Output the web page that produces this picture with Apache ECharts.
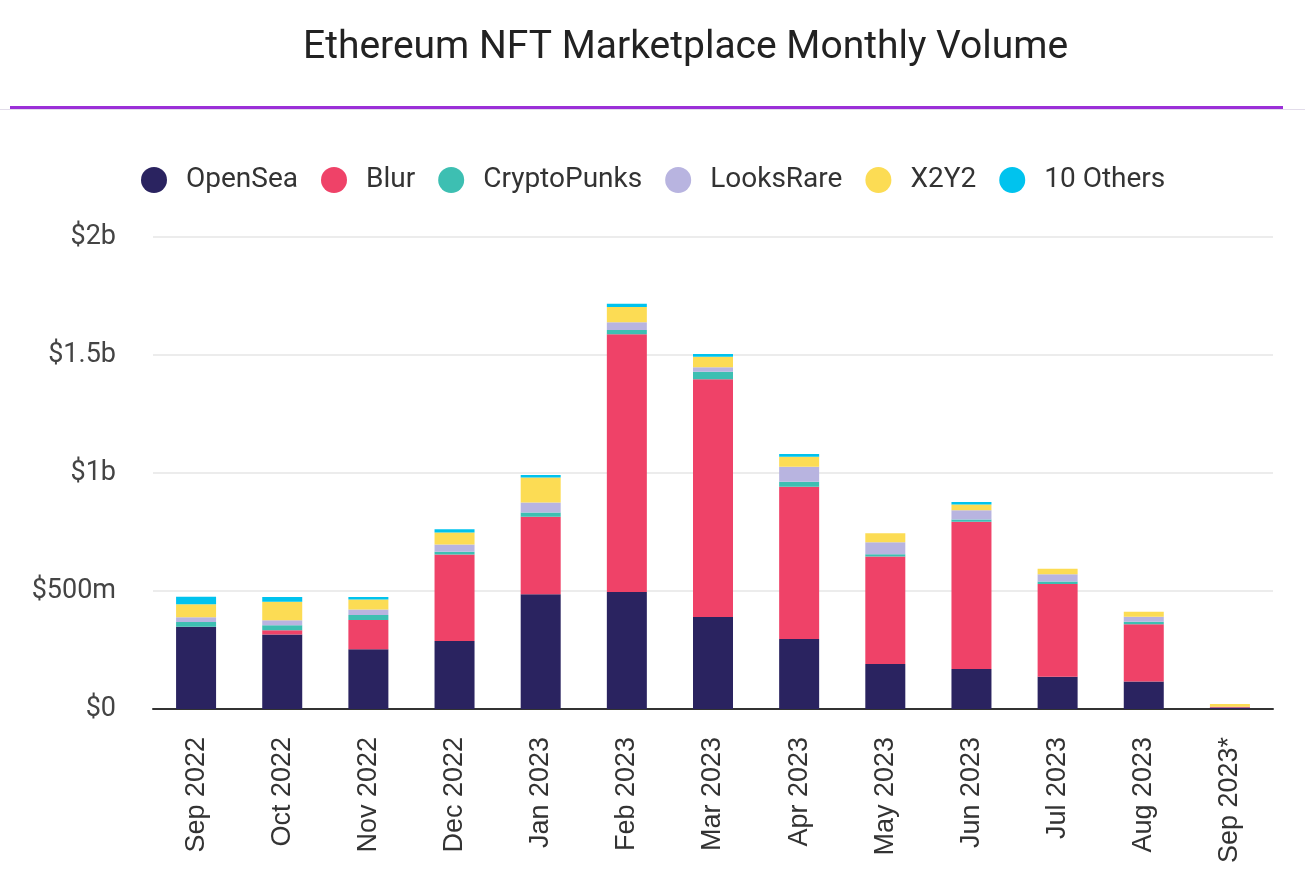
<!DOCTYPE html>
<html>
<head>
<meta charset="utf-8">
<script src="https://cdn.jsdelivr.net/npm/echarts@6/dist/echarts.min.js"></script>
<style>html,body{margin:0;padding:0;background:#fff;}#c{width:1305px;height:878px;}</style>
</head>
<body>
<div id="c"></div>
<script>
const categories = ['Sep 2022','Oct 2022','Nov 2022','Dec 2022','Jan 2023','Feb 2023','Mar 2023','Apr 2023','May 2023','Jun 2023','Jul 2023','Aug 2023','Sep 2023*'];
// values in $ millions
const openSea     = [349, 316, 253, 288, 486, 496, 390, 297, 191, 169, 137, 116, 6];
const blur        = [0,   18,  124, 367, 329, 1092, 1007, 645, 455, 624, 393, 243, 4];
const cryptoPunks = [20,  21,  21,  11,  18,  18,  32,  21,  10,  10,  10,  11,  0];
const looksRare   = [20,  21,  24,  31,  42,  33,  19,  64,  51,  39,  31,  21,  0];
const x2y2        = [55,  78,  42,  51,  106, 64,  45,  42,  38,  25,  23,  21,  11];
const others      = [32,  21,  11,  14,  11,  14,  11,  11,  0,   10,  0,   0,   0];
const yTickValues = [0, 500, 1000, 1500, 2000];
const yTickLabels = ['$0', '$500m', '$1b', '$1.5b', '$2b'];

const seriesDefs = [
  ['OpenSea', openSea, '#2a2360'],
  ['Blur', blur, '#ef4268'],
  ['CryptoPunks', cryptoPunks, '#3dbfb2'],
  ['LooksRare', looksRare, '#b8b4e0'],
  ['X2Y2', x2y2, '#fcdc54'],
  ['10 Others', others, '#00c3ee']
];

const chart = echarts.init(document.getElementById('c'), null, {renderer: 'canvas'});
chart.setOption({
  animation: false,
  backgroundColor: '#fff',
  title: {
    text: 'Ethereum NFT Marketplace Monthly Volume',
    left: 298,
    top: 24,
    textStyle: {fontFamily: 'Roboto', fontSize: 39, fontWeight: 'normal', color: '#222'}
  },
  graphic: [
    {type: 'rect', shape: {x: 0, y: 109, width: 1305, height: 1}, style: {fill: '#e2dcea'}, silent: true},
    {type: 'rect', shape: {x: 10, y: 106, width: 1273, height: 3}, style: {fill: '#9b2fd8'}, silent: true}
  ],
  legend: {
    top: 161,
    left: 136,
    icon: 'circle',
    itemWidth: 26,
    itemHeight: 26,
    itemGap: 23,
    textStyle: {fontFamily: 'Roboto', fontSize: 28, color: '#333', padding: [0, 0, 0, 14]},
    data: seriesDefs.map(d => d[0])
  },
  grid: {left: 153, right: 32, top: 237, bottom: 169, containLabel: false},
  xAxis: {
    type: 'category',
    data: categories,
    axisTick: {show: false},
    axisLine: {lineStyle: {color: '#333', width: 2}},
    axisLabel: {rotate: 90, margin: 28, fontFamily: 'Liberation Sans', fontSize: 27, color: '#333', interval: 0}
  },
  yAxis: {
    type: 'value',
    min: 0,
    max: 2000,
    interval: 500,
    axisLine: {show: false},
    axisTick: {show: false},
    splitLine: {lineStyle: {color: '#ececec', width: 2}},
    axisLabel: {
      margin: 37,
      fontFamily: 'Roboto',
      fontSize: 27,
      color: '#444',
      formatter: v => yTickLabels[yTickValues.indexOf(v)]
    }
  },
  series: seriesDefs.map(d => ({
    name: d[0],
    type: 'bar',
    stack: 'total',
    barWidth: 40,
    data: d[1],
    itemStyle: {color: d[2]}
  }))
});
</script>
</body>
</html>
